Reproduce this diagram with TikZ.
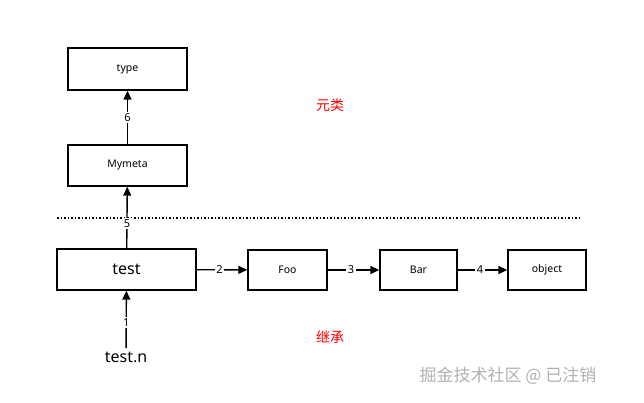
\documentclass[tikz,border=0pt]{standalone}
\usepackage{fontspec}
\setmainfont{Noto Sans}
\newfontfamily\cjk{Noto Sans CJK SC}
\usetikzlibrary{arrows.meta}
\begin{document}
\begin{tikzpicture}[x=1pt,y=-1pt,
  box/.style={draw,line width=1.4pt,inner sep=0pt,font=\fontsize{10.5}{12}\selectfont},
  arr/.style={line width=1.4pt,-{Triangle[length=9pt,width=8pt]}},
  lab/.style={fill=white,inner sep=1.5pt,font=\fontsize{11}{12}\selectfont}]
\useasboundingbox[fill=white] (0,0) rectangle (644,403);
\node[box,minimum width=119pt,minimum height=42pt] (type) at (127.5,69) {type};
\node[box,minimum width=119pt,minimum height=41pt] (mymeta) at (127.5,165.5) {Mymeta};
\node[box,minimum width=139pt,minimum height=41pt,font=\fontsize{16}{18}\selectfont] (test) at (126.5,269.5) {test};
\node[box,minimum width=79pt,minimum height=40pt] (foo) at (287.5,270) {Foo};
\node[box,minimum width=77pt,minimum height=40pt] (bar) at (418.5,270) {Bar};
\node[box,minimum width=78pt,minimum height=40pt] (obj) at (547,270) {object};
\node[font=\fontsize{16}{18}\selectfont] (tn) at (126,357) {test.n};
\draw[dotted,line width=1.5pt] (57,218) -- (582,218);
\node[text=red,font=\cjk\fontsize{14}{16}\selectfont] (yl) at (330,105) {元类};
\node[text=red,font=\cjk\fontsize{14}{16}\selectfont] (jc) at (330,337) {继承};
\draw[arr] (mymeta) -- node[lab]{6} (type);
\draw[arr] (test) -- node[lab,pos=0.4]{5} (mymeta);
\draw[arr] (tn) -- node[lab,pos=0.45]{1} (test);
\draw[arr] (test) -- node[lab,pos=0.45]{2} (foo);
\draw[arr] (foo) -- node[lab,pos=0.45]{3} (bar);
\draw[arr] (bar) -- node[lab,pos=0.45]{4} (obj);
\node[text=black!30,font=\cjk\fontsize{17}{20}\selectfont] (wm) at (508,376) {掘金技术社区 @ 已注销};
\end{tikzpicture}
\end{document}
